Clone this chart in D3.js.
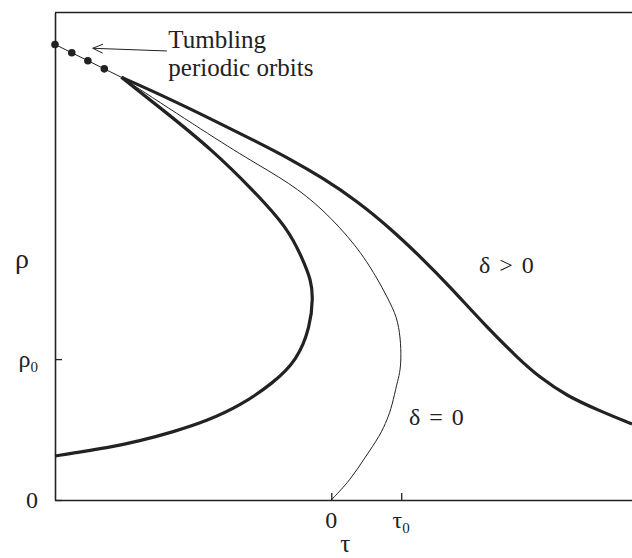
<!DOCTYPE html>
<html>
<head>
<meta charset="utf-8">
<script src="https://cdn.jsdelivr.net/npm/d3@7"></script>
<style>
  html, body { margin: 0; padding: 0; background: #fff; }
  svg text { font-family: "Liberation Serif", "Times New Roman", serif; fill: #222; }
</style>
</head>
<body>
<svg id="chart" width="632" height="558"></svg>
<script>
// Bifurcation diagram: rho versus tau for delta = 0 and delta > 0.
// All curves start from the cusp at (tau, rho) = (-3, 3).

// delta > 0, upper branch
const deltaPosUpperTau = [-3.00, -2.41, -1.69, -1.06, -0.59, -0.12, 0.37, 0.84, 1.31, 1.70, 2.17, 2.66, 2.99, 3.37, 3.84, 4.30];
const deltaPosUpperRho = [3.00, 2.87, 2.697, 2.541, 2.420, 2.285, 2.122, 1.930, 1.710, 1.512, 1.256, 1.01, 0.866, 0.738, 0.632, 0.539];

// delta > 0, lower branch (folds back at the nose)
const deltaPosLowerTau = [-3.00, -2.41, -1.69, -1.12, -0.62, -0.40, -0.29, -0.26, -0.30, -0.49, -0.83, -1.31, -1.78, -2.26, -2.74, -3.21, -3.69, -3.95];
const deltaPosLowerRho = [3.00, 2.77, 2.48, 2.20, 1.93, 1.70, 1.56, 1.44, 1.23, 0.99, 0.83, 0.667, 0.561, 0.483, 0.419, 0.369, 0.334, 0.312];

// delta = 0, nose at (tau0, rho0) = (1, 1), ends at the origin
const deltaZeroTau = [-3.00, -1.92, -1.21, -0.59, -0.12, 0.37, 0.65, 0.81, 0.94, 0.99, 1.00, 0.98, 0.94, 0.87, 0.80, 0.70, 0.48, 0.27, 0.00];
const deltaZeroRho = [3.00, 2.65, 2.425, 2.25, 2.065, 1.80, 1.58, 1.43, 1.30, 1.15, 1.00, 0.90, 0.83, 0.67, 0.57, 0.46, 0.30, 0.14, 0.00];

// tumbling periodic orbits on the line leading into the cusp
const orbitTau = [-3.95, -3.71, -3.48, -3.245];
const orbitRho = [3.233, 3.174, 3.118, 3.060];

// axis ticks
const tauTicks = [0, 1];
const tauTickLabels = [["0", ""], ["τ", "0"]];
const rhoTicks = [0, 1];
const rhoTickLabels = [["0", ""], ["ρ", "0"]];

const svg = d3.select("#chart");
const ink = "#222";

const x = d3.scaleLinear().domain([-3.95, 4.30]).range([55, 632]);
const y = d3.scaleLinear().domain([0, 3.46]).range([500, 12.5]);

const zip = (a, b) => a.map((v, i) => [v, b[i]]);
const line = d3.line().x(d => x(d[0])).y(d => y(d[1])).curve(d3.curveBasis);

// frame: top edge
svg.append("line")
  .attr("x1", x(-3.95)).attr("x2", x(4.30))
  .attr("y1", y(3.46)).attr("y2", y(3.46))
  .attr("stroke", ink).attr("stroke-width", 1.6);

// bottom axis
const xAxis = d3.axisBottom(x).tickValues(tauTicks).tickSizeInner(-7).tickSizeOuter(0).tickFormat("");
const gx = svg.append("g").attr("transform", `translate(0,${y(0)})`).call(xAxis);
gx.select(".domain").attr("stroke", ink).attr("stroke-width", 1.6);
gx.selectAll(".tick line").attr("stroke", ink).attr("stroke-width", 1.3);

// left axis
const yAxis = d3.axisLeft(y).tickValues(rhoTicks).tickSizeInner(-7).tickSizeOuter(0).tickFormat("");
const gy = svg.append("g").attr("transform", `translate(${x(-3.95)},0)`).call(yAxis);
gy.select(".domain").attr("stroke", ink).attr("stroke-width", 1.6);
gy.selectAll(".tick line").attr("stroke", ink).attr("stroke-width", 1.3);

// tick labels with subscripts
tauTicks.forEach((t, i) => {
  const [main, sub] = tauTickLabels[i];
  const tx = svg.append("text")
    .attr("x", x(t)).attr("y", y(0) + 28)
    .attr("text-anchor", "middle")
    .attr("font-size", 24);
  tx.append("tspan").text(main);
  if (sub) tx.append("tspan").attr("dy", 5).attr("font-size", 15).text(sub);
});
rhoTicks.forEach((r, i) => {
  const [main, sub] = rhoTickLabels[i];
  const tx = svg.append("text")
    .attr("x", x(-3.95) - 17).attr("y", y(r) + 8)
    .attr("text-anchor", "end")
    .attr("font-size", 24);
  tx.append("tspan").text(main);
  if (sub) tx.append("tspan").attr("dy", 5).attr("font-size", 15).text(sub);
});

// axis titles
svg.append("text").attr("x", x(0.2)).attr("y", 552)
  .attr("text-anchor", "middle").attr("font-size", 25).text("τ");
svg.append("text").attr("x", 22).attr("y", 268)
  .attr("text-anchor", "middle").attr("font-size", 28).text("ρ");

// line through the periodic orbits into the cusp
svg.append("line")
  .attr("x1", x(orbitTau[0])).attr("y1", y(orbitRho[0]))
  .attr("x2", x(deltaZeroTau[0])).attr("y2", y(deltaZeroRho[0]))
  .attr("stroke", ink).attr("stroke-width", 1);

// curves
svg.append("path").datum(zip(deltaZeroTau, deltaZeroRho))
  .attr("d", line).attr("fill", "none").attr("stroke", ink).attr("stroke-width", 1);
svg.append("path").datum(zip(deltaPosUpperTau, deltaPosUpperRho))
  .attr("d", line).attr("fill", "none").attr("stroke", ink).attr("stroke-width", 3.2);
svg.append("path").datum(zip(deltaPosLowerTau, deltaPosLowerRho))
  .attr("d", line).attr("fill", "none").attr("stroke", ink).attr("stroke-width", 3.2);

// orbit dots
svg.selectAll("circle.orbit").data(zip(orbitTau, orbitRho)).join("circle")
  .attr("class", "orbit")
  .attr("cx", d => x(d[0])).attr("cy", d => y(d[1])).attr("r", 3.8)
  .attr("fill", ink);

// annotation arrow
const arrowTip = [-3.41, 3.206];
const arrowTail = [-2.35, 3.187];
const tipX = x(arrowTip[0]), tipY = y(arrowTip[1]);
const tailX = x(arrowTail[0]), tailY = y(arrowTail[1]);
svg.append("line")
  .attr("x1", tailX).attr("y1", tailY).attr("x2", tipX).attr("y2", tipY)
  .attr("stroke", ink).attr("stroke-width", 1);
const ang = Math.atan2(tailY - tipY, tailX - tipX);
[0.42, -0.42].forEach(da => {
  svg.append("line")
    .attr("x1", tipX).attr("y1", tipY)
    .attr("x2", tipX + 11 * Math.cos(ang + da)).attr("y2", tipY + 11 * Math.sin(ang + da))
    .attr("stroke", ink).attr("stroke-width", 1);
});

svg.append("text").attr("x", x(-2.33)).attr("y", 48).attr("font-size", 25).text("Tumbling");
svg.append("text").attr("x", x(-2.33)).attr("y", 76).attr("font-size", 25).text("periodic orbits");

// curve labels
svg.append("text").attr("x", 479).attr("y", 273).attr("font-size", 24)
  .attr("word-spacing", 3).text("δ > 0");
svg.append("text").attr("x", 409).attr("y", 425).attr("font-size", 24)
  .attr("word-spacing", 3).text("δ = 0");
</script>
</body>
</html>
